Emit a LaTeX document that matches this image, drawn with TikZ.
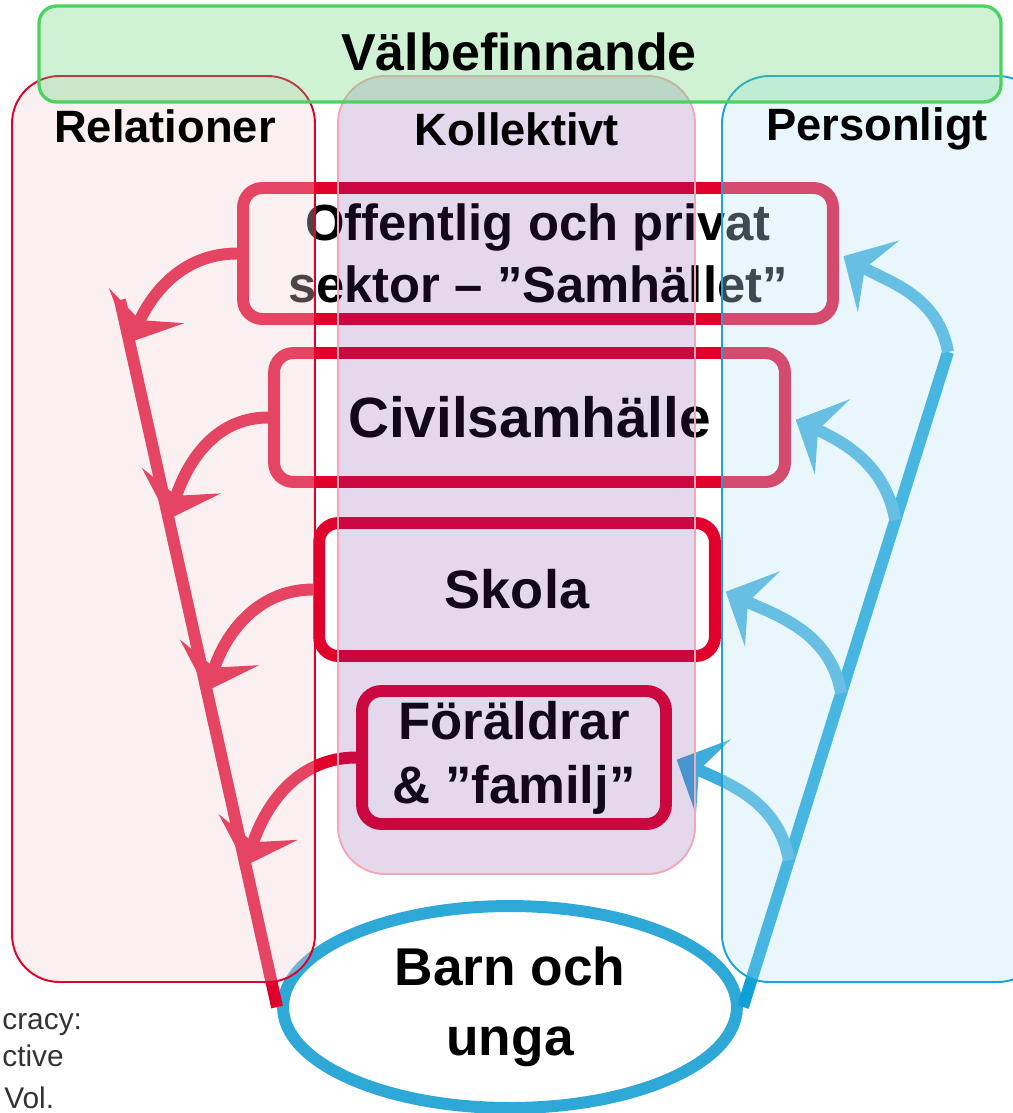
\documentclass[tikz,border=0pt]{standalone}
\usepackage{fontspec}
\setmainfont{Liberation Sans}
\usetikzlibrary{arrows.meta, shapes.geometric, calc}

\definecolor{relred}{HTML}{E0002B}
\definecolor{persblue}{HTML}{0FA0D8}
\definecolor{curveblue}{HTML}{3FADDC}
\definecolor{ringblue}{HTML}{2EA8D6}
\definecolor{pinkfill}{HTML}{F2D1D4}
\definecolor{purplefill}{HTML}{672B98}
\definecolor{purpleedge}{HTML}{F4A7B5}
\definecolor{bluefill}{HTML}{BCE6F5}
\definecolor{bluedge}{HTML}{1DA1D8}
\definecolor{greenfill}{HTML}{5FD473}
\definecolor{greenedge}{HTML}{4CD25E}
\definecolor{citegray}{HTML}{333333}

\begin{document}
\begin{tikzpicture}[x=0.02cm, y=-0.02cm, >={Stealth[length=23pt, width=47pt, inset=9pt]},
    level/.style={draw=relred, line width=6.8pt, rounded corners=11pt, inner sep=0pt, align=center, text=black},
    kid/.style={ellipse, draw=ringblue, fill=white, line width=6.8pt, inner sep=0pt, align=center, minimum width=9.08cm, minimum height=4.04cm, font=\fontsize{30.3}{39.7}\selectfont\bfseries},
    column/.style={line width=1.1pt, rounded corners=27pt, fill opacity=0.33},
    heading/.style={anchor=base, font=\fontsize{25.8}{30}\selectfont\bfseries},
    rline/.style={relred, line width=6.8pt},
    bline/.style={persblue, line width=6.8pt},
    rarrow/.style={->, relred, line width=6.8pt},
    barrow/.style={->, curveblue, line width=6.8pt, shorten >=3pt},
    cite/.style={anchor=base west, inner sep=0pt, text=citegray, font=\fontsize{17}{20}\selectfont}]
    \useasboundingbox (0,0) rectangle (1012,1113);

    % Children and young people
    \node[kid] (barn) at (510,1007) {Barn och\\unga};
    \coordinate (ltop) at (120,300);
    \coordinate (rtop) at (948,352);
    \draw[rline] (barn.west) -- (ltop);
    \draw[bline] (barn.east) -- (rtop);

    % Levels
    \node[level, minimum width=11.8cm, minimum height=2.62cm, font=\fontsize{28.9}{35.1}\selectfont\bfseries] (sektor) at (538,253.5) {Offentlig och privat\\sektor – ”Samhället”};
    \node[level, minimum width=10.22cm, minimum height=2.58cm, font=\fontsize{32.3}{38}\selectfont\bfseries] (civil) at (529.5,417.5) {Civilsamhälle};
    \node[level, minimum width=7.92cm, minimum height=2.66cm, font=\fontsize{30.8}{36}\selectfont\bfseries] (skola) at (517,589.5) {Skola};
    \node[level, minimum width=6.08cm, minimum height=2.66cm, font=\fontsize{30}{36.3}\selectfont\bfseries] (foraldrar) at (514,757.5) {Föräldrar\\\& ”familj”};

    % Arrows to the relations line
    \draw[rarrow] (sektor.west) to[out=180, in=65] ($(barn.west)!0.94!(ltop)$);
    \draw[rarrow] (civil.west) to[out=180, in=72] ($(barn.west)!0.69!(ltop)$);
    \draw[rarrow] (skola.west) to[out=180, in=72] ($(barn.west)!0.447!(ltop)$);
    \draw[rarrow] (foraldrar.west) to[out=180, in=72] ($(barn.west)!0.2!(ltop)$);

    % Arrows from the personal line
    \draw[barrow] (rtop) to[out=100, in=-30] (sektor.east);
    \draw[barrow] ($(barn.east)!0.743!(rtop)$) to[out=100, in=-25] (civil.east);
    \draw[barrow] ($(barn.east)!0.479!(rtop)$) to[out=100, in=-25] (skola.east);
    \draw[barrow] ($(barn.east)!0.224!(rtop)$) to[out=100, in=-25] (foraldrar.east);

    % Columns
    \draw[column, draw=relred, fill=pinkfill] (12,76) rectangle (315,982);
    \draw[column, draw=purpleedge, fill=purplefill, fill opacity=0.18] (338,76) rectangle (695,874);
    \draw[column, draw=bluedge, fill=bluefill] (722,76) rectangle (1045,982);
    \node[heading] (rel) at (165,142) {Relationer};
    \node[heading] (koll) at (517,145) {Kollektivt};
    \node[heading] (pers) at (877,140) {Personligt};

    % Well-being
    \draw[draw=greenedge, fill=greenfill, fill opacity=0.3, line width=1.9pt, rounded corners=10pt] (39,6) rectangle (1001,102);
    \node[anchor=base, font=\fontsize{29.6}{34}\selectfont\bfseries] (valbe) at (519,70) {Välbefinnande};

    % Source fragments
    \node[cite] (cite1) at (2,1029) {cracy:};
    \node[cite] (cite2) at (2,1066) {ctive};
    \node[cite] (cite3) at (4,1108) {Vol.};
\end{tikzpicture}
\end{document}
